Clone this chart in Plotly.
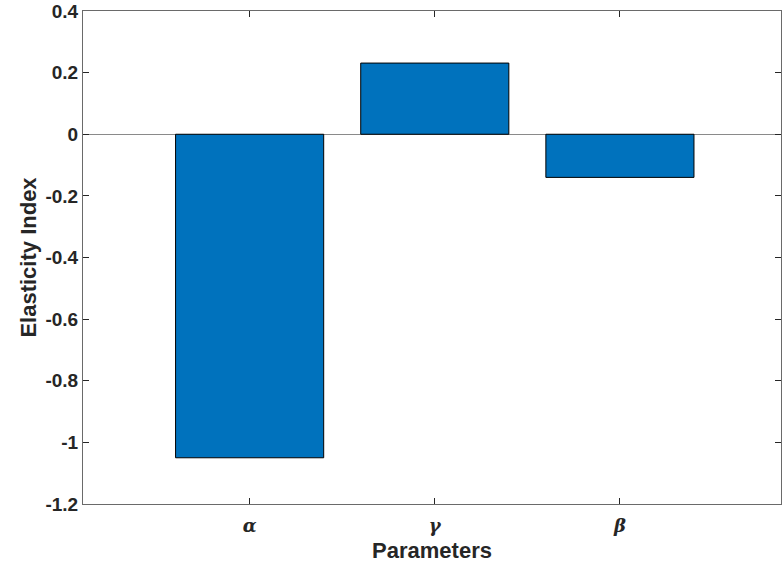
import plotly.graph_objects as go

categories = ["α", "γ", "β"]
positions = [1, 2, 3]
values = [-1.05, 0.231, -0.14]
y_ticks = [0.4, 0.2, 0, -0.2, -0.4, -0.6, -0.8, -1, -1.2]
y_tick_text = ["0.4", "0.2", "0", "-0.2", "-0.4", "-0.6", "-0.8", "-1", "-1.2"]

fig = go.Figure()
fig.add_trace(go.Bar(
    x=positions, y=values, width=0.8,
    marker=dict(color="#0072BD", line=dict(color="#000000", width=1)),
))
axis_color = "#6a6a6a"
fig.update_layout(
    width=782, height=569,
    margin=dict(l=83, r=1, t=11, b=65),
    plot_bgcolor="white", paper_bgcolor="white",
    showlegend=False,
    font=dict(family="Liberation Sans, Arial, sans-serif", color="#262626"),
    xaxis=dict(
        range=[0.1, 3.87], tickvals=positions,
        ticktext=["<b><i>%s</i></b>" % c for c in categories],
        tickfont=dict(family="DejaVu Serif, Liberation Serif, serif", size=18, color="#262626"),
        ticks="inside", ticklen=6, tickcolor="#262626", ticklabelstandoff=5,
        showline=True, linecolor=axis_color, linewidth=1, mirror="ticks",
        showgrid=False, zeroline=False,
        title=dict(text="<b>Parameters</b>", font=dict(size=22, color="#262626"), standoff=8),
    ),
    yaxis=dict(
        range=[-1.2, 0.4], tickvals=y_ticks, ticktext=["<b>%s</b>" % t for t in y_tick_text],
        tickfont=dict(size=19, color="#262626"),
        ticks="inside", ticklen=6, tickcolor="#262626",
        showline=True, linecolor=axis_color, linewidth=1, mirror="ticks",
        showgrid=False, zeroline=True, zerolinecolor="#8a8a8a", zerolinewidth=1,
        title=dict(text="<b>Elasticity Index</b>", font=dict(size=22, color="#262626"), standoff=2),
    ),
)
fig.write_html("out.html")
